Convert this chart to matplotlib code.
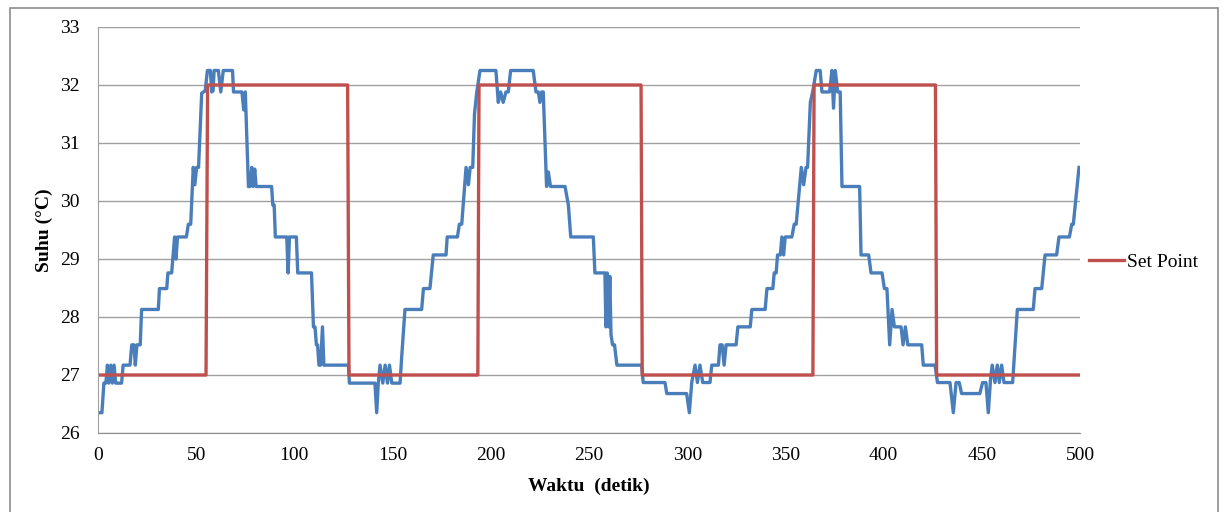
import numpy as np
import matplotlib.pyplot as plt
from matplotlib.patches import Rectangle

# waktu (detik) dan suhu terukur
waktu = [0.5, 2, 3, 4, 4.8, 5.5, 6.5, 7.3, 8.2, 9, 12, 12.8, 16.3, 17.2, 18.3, 19, 19.8, 21.5, 22.2,
         30.7, 31.3, 35, 35.6, 37.5, 39, 39.7, 40.5, 45, 46, 47.2, 48.5, 49.3, 50.2, 51.2, 52.8,
         54.6, 55.7, 57.2, 57.9, 58.6, 59.1, 61.3, 62.5, 63.8, 68.5, 69, 73.3, 74.2, 75, 76.6,
         77.5, 78.3, 79, 79.8, 80.5, 88.4, 89, 89.7, 90.3, 96.1, 96.8, 97.5, 101, 101.7, 108.7,
         109.7, 110.5, 111.2, 111.8, 112.5, 113.3, 114.3, 115, 127.5, 128,
         141.0, 141.9, 142.7, 143.6, 145, 146.2, 147.4, 148.4, 149.6, 153.8, 154.6, 156.3,
         164.8, 165.7, 169, 170.7, 177.2, 177.8, 183, 184, 185.2, 187.4, 188.6, 189.5, 190.8,
         191.7, 192.8, 194.5, 202.6, 203.8, 205, 206.3, 207.7, 208.9, 210.1, 221.6, 223, 224.2,
         225, 225.9, 226.7, 228.4, 229.3, 230.4, 237.8, 239.5, 240.7, 252.2, 253, 258.1, 258.6,
         259.3, 260, 260.6, 261.2, 262, 263, 264.2,
         276.8, 277.6, 288.7, 289.6, 299.7, 301.1, 302.3, 304, 305.2, 306.5, 307.9, 311.6,
         312.5, 315.9, 316.7, 317.8, 318.8, 319.8, 324.9, 325.8, 332.1, 332.9, 339.7, 340.6,
         343.6, 344.3, 345.3, 346, 347.4, 348.2, 349.1, 349.9, 353.3, 354.5, 355.5, 358.1,
         359.3, 360.5, 361.3, 362.7, 364, 365.7, 367.7, 368.6, 372.5, 373.7, 374.5, 375.4,
         376.6, 377.9, 378.8, 387.8, 388.5, 392.4, 393.6, 399.2, 400.4, 401.7, 403.1, 404.3,
         405.5, 408.9, 409.9, 411.1, 412.3,
         419.4, 420.2, 426.2, 427.4, 433.8, 435.5, 436.9, 438.5, 439.7, 449, 450.4, 452.1,
         453.3, 454.5, 455.3, 456.7, 457.9, 458.9, 460.1, 461.3, 465.7, 466.9, 468.1, 476.2,
         477.1, 480.5, 482.2, 488.1, 489.3, 494.6, 495.8, 496.6, 499.5]
suhu = [26.35, 26.35, 26.86, 26.86, 27.17, 26.86, 27.17, 26.86, 27.17, 26.86, 26.86, 27.17, 27.17,
        27.52, 27.52, 27.17, 27.52, 27.52, 28.13,
        28.13, 28.49, 28.49, 28.76, 28.76, 29.38, 29.0, 29.38, 29.38, 29.6, 29.6, 30.58, 30.28,
        30.58, 30.58, 31.86,
        31.9, 32.25, 32.25, 31.88, 31.9, 32.25, 32.25, 31.88, 32.25, 32.25, 31.88, 31.88, 31.57,
        31.88, 30.25,
        30.25, 30.58, 30.25, 30.55, 30.25, 30.25, 29.93, 29.93, 29.38, 29.38, 28.76, 29.38,
        29.38, 28.76, 28.76,
        27.83, 27.83, 27.52, 27.52, 27.17, 27.17, 27.83, 27.17, 27.17, 26.86,
        26.86, 26.35, 26.86, 27.17, 26.86, 27.17, 26.86, 27.17, 26.86, 26.86, 27.3, 28.13,
        28.13, 28.49, 28.49, 29.07, 29.07, 29.38, 29.38, 29.6, 29.6, 30.58, 30.28, 30.58, 30.58,
        31.5, 31.86, 32.25, 32.25, 31.7, 31.88, 31.7, 31.88, 31.88, 32.25, 32.25, 31.88, 31.88,
        31.7, 31.88, 31.88, 30.25, 30.5, 30.25, 30.25, 29.93, 29.38, 29.38, 28.76, 28.76, 27.83,
        28.76, 27.83, 28.7, 27.7, 27.52, 27.52, 27.17,
        27.17, 26.87, 26.87, 26.68, 26.68, 26.35, 26.87, 27.17, 26.87, 27.17, 26.87, 26.87,
        27.17, 27.17, 27.52, 27.52, 27.17, 27.52, 27.52, 27.83, 27.83, 28.13, 28.13, 28.49,
        28.49, 28.76, 28.76, 29.07, 29.07, 29.38, 29.07, 29.38, 29.38, 29.6, 29.6, 30.58,
        30.28, 30.58, 30.58, 31.7, 31.9, 32.25, 32.25, 31.88, 31.88, 32.25, 31.6, 32.25,
        31.88, 31.88, 30.25, 30.25, 29.07, 29.07, 28.76, 28.76, 28.49, 28.49, 27.52, 28.13,
        27.83, 27.83, 27.52, 27.83, 27.52,
        27.52, 27.17, 27.17, 26.87, 26.87, 26.35, 26.87, 26.87, 26.68, 26.68, 26.87, 26.87,
        26.35, 26.95, 27.17, 26.87, 27.17, 26.87, 27.17, 26.87, 26.87, 27.5, 28.13, 28.13,
        28.49, 28.49, 29.07, 29.07, 29.38, 29.38, 29.6, 29.6, 30.58]

# set point
sp_waktu = [0, 55, 55.8, 127.1, 127.8, 193.4, 194.0, 276.5, 277.1, 364.0, 364.6, 426.4, 427.0, 500]
sp_suhu = [27, 27, 32, 32, 27, 27, 32, 32, 27, 27, 32, 32, 27, 27]

plt.rcParams['font.family'] = ['Liberation Serif', 'DejaVu Serif']

fig = plt.figure(figsize=(12.29, 5.12), dpi=100)
ax = fig.add_axes([98 / 1229, 1 - 433 / 512, (1080 - 98) / 1229, (433 - 27) / 512])

ax.plot(waktu, suhu, color='#4a7ebb', lw=2.4, solid_joinstyle='round')
ax.plot(sp_waktu, sp_suhu, color='#c0504d', lw=2.4, label='Set Point')

ax.set_xlim(0, 500)
ax.set_ylim(26, 33)
ax.set_xticks(np.arange(0, 501, 50))
ax.set_yticks(np.arange(26, 34, 1))
ax.tick_params(axis='x', length=0, labelsize=14, pad=10)
ax.tick_params(axis='y', length=0, labelsize=14, pad=13)
ax.grid(axis='y', color='#a0a0a0', lw=1)
ax.set_axisbelow(True)
for s in ['top', 'right']:
    ax.spines[s].set_visible(False)
ax.spines['left'].set_color('#a0a0a0')
ax.spines['bottom'].set_color('#8c8c8c')

fig.text(44 / 1229, 1 - 230 / 512, 'Suhu (°C)', rotation=90, ha='center', va='center',
         fontsize=14, fontweight='bold')
fig.text(589 / 1229, 1 - 486 / 512, 'Waktu  (detik)', ha='center', va='center',
         fontsize=14, fontweight='bold')

fig.legend(loc='center left', bbox_to_anchor=(1071 / 1229, 1 - 262 / 512), frameon=False,
           fontsize=14, handlelength=1.85, handletextpad=0.15)

fig.patches.append(Rectangle((10 / 1229, -0.05), 1208 / 1229, 1.05 - 8 / 512,
                             transform=fig.transFigure, fill=False, ec='#8c8c8c', lw=1.2))

fig.savefig('out.png', dpi=100)
